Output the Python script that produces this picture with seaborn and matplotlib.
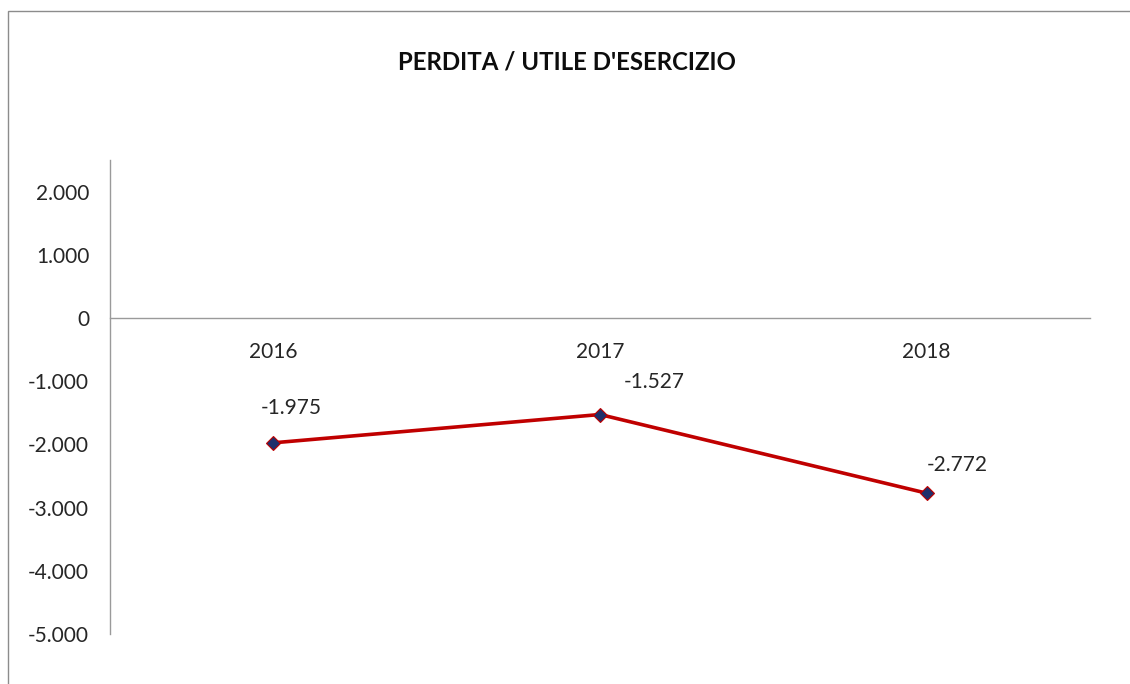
import matplotlib
matplotlib.use("Agg")
import matplotlib.pyplot as plt
from matplotlib.patches import Rectangle
from matplotlib.ticker import FuncFormatter
import pandas as pd
import seaborn as sns

years = ["2016", "2017", "2018"]
result = [-1975, -1527, -2772]
# offsets of the data labels, in points
label_offsets = [(13, 18), (39, 16), (22, 13)]

sns.set_theme(style="white")
plt.rcParams["font.family"] = ["Lato", "DejaVu Sans"]


def it_fmt(v, pos=None):
    s = f"{abs(v):,.0f}".replace(",", ".")
    return ("-" if v < 0 else "") + s


df = pd.DataFrame({"anno": years, "valore": result})

fig = plt.figure(figsize=(11.3, 6.84), dpi=100)
ax = fig.add_axes([110 / 1130, 1 - 634 / 684, 980 / 1130, (634 - 160) / 684])

sns.lineplot(
    data=df, x="anno", y="valore", ax=ax, color="#C00000", linewidth=2.6,
    marker="D", markersize=7, markerfacecolor="#1F2F6B", markeredgecolor="#C00000",
    markeredgewidth=0.8, sort=False
)

ax.set_xlim(-0.5, len(years) - 0.5)
ax.set_ylim(-5000, 2500)
ax.set_yticks(range(-5000, 2001, 1000))
ax.yaxis.set_major_formatter(FuncFormatter(it_fmt))

for s in ["top", "right"]:
    ax.spines[s].set_visible(False)
ax.spines["bottom"].set_position(("data", 0))
for s in ["bottom", "left"]:
    ax.spines[s].set_color("#9a9a9a")
    ax.spines[s].set_linewidth(1)

ax.tick_params(axis="both", length=0, labelsize=15, colors="#262626")
ax.tick_params(axis="y", pad=15)
ax.tick_params(axis="x", pad=17)
ax.set_xlabel("")
ax.set_ylabel("")

for i, (v, off) in enumerate(zip(result, label_offsets)):
    ax.annotate(it_fmt(v), (i, v), xytext=off, textcoords="offset points",
                ha="center", va="bottom", fontsize=15, color="#262626")

fig.text(567 / 1130, 1 - 62 / 684, "PERDITA / UTILE D'ESERCIZIO", ha="center", va="center",
         fontsize=17.3, fontweight="bold", color="#0d0d0d")

fig.patches.append(Rectangle((8 / 1130, -0.05), 1.1, 1 - 11 / 684 + 0.05, transform=fig.transFigure,
                             fill=False, edgecolor="#8c8c8c", linewidth=1))

fig.savefig("out.png", dpi=100)
